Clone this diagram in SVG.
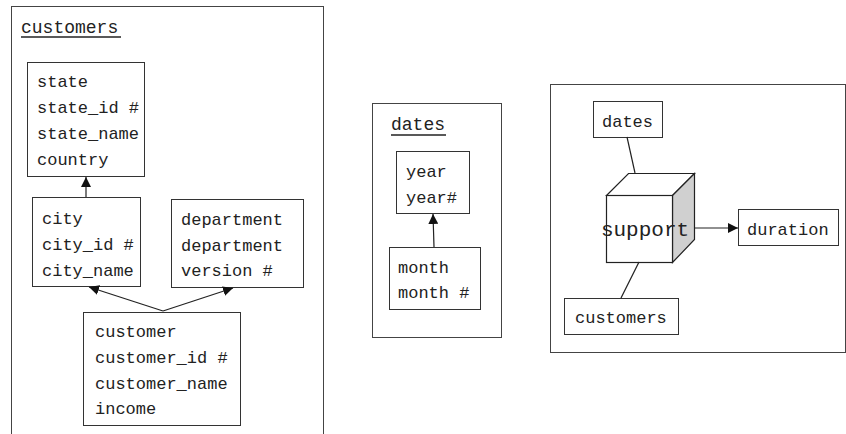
<svg xmlns="http://www.w3.org/2000/svg" width="846" height="434" viewBox="0 0 846 434">
<style>
.box{fill:#fff;stroke:#333;stroke-width:1}
.frame{fill:none;stroke:#444;stroke-width:1}
.t{font-family:"Liberation Mono","Courier New",monospace;font-size:17px;fill:#222}
.title{font-size:18px}
.big{font-size:21px}
.ul{stroke:#222;stroke-width:1.5}
.ln{stroke:#222;stroke-width:1.2;fill:none}
</style>
<defs>
<marker id="ah" viewBox="0 0 10 10" refX="10" refY="5" markerWidth="10" markerHeight="10" markerUnits="userSpaceOnUse" orient="auto">
<path d="M0,0 L10,5 L0,10 z" fill="#111"/>
</marker>
</defs>
<rect width="846" height="434" fill="#fff"/>

<g id="customers-package">
<rect class="frame" x="11.5" y="6.5" width="312" height="440"/>
<text class="t title" x="21" y="33">customers</text>
<line class="ul" x1="21" y1="37" x2="121" y2="37"/>
</g>
<g id="state">
<rect class="box" x="27.5" y="62.5" width="117" height="114"/>
<text class="t" x="37" y="87">state</text>
<text class="t" x="37" y="113">state_id #</text>
<text class="t" x="37" y="139">state_name</text>
<text class="t" x="37" y="165">country</text>
</g>
<g id="city">
<rect class="box" x="32.5" y="197.5" width="108" height="89"/>
<text class="t" x="42" y="224">city</text>
<text class="t" x="42" y="250">city_id #</text>
<text class="t" x="42" y="276">city_name</text>
</g>
<g id="department">
<rect class="box" x="171.5" y="199.5" width="132" height="88"/>
<text class="t" x="181" y="225">department</text>
<text class="t" x="181" y="251">department</text>
<text class="t" x="181" y="276">version #</text>
</g>
<g id="customer">
<rect class="box" x="83.5" y="312.5" width="157" height="113"/>
<text class="t" x="95" y="337">customer</text>
<text class="t" x="95" y="363">customer_id #</text>
<text class="t" x="95" y="389">customer_name</text>
<text class="t" x="95" y="414">income</text>
</g>

<g id="dates-package">
<rect class="frame" x="372.5" y="103.5" width="129" height="234"/>
<text class="t title" x="391" y="130">dates</text>
<line class="ul" x1="391" y1="135" x2="446" y2="135"/>
</g>
<g id="year">
<rect class="box" x="396.5" y="151.5" width="73" height="62"/>
<text class="t" x="406" y="177">year</text>
<text class="t" x="406" y="203">year#</text>
</g>
<g id="month">
<rect class="box" x="389.5" y="247.5" width="91" height="62"/>
<text class="t" x="398" y="273">month</text>
<text class="t" x="398" y="298">month #</text>
</g>

<g id="support-package">
<rect class="frame" x="550.5" y="84.5" width="295" height="268"/>
</g>
<g id="dates-ref">
<rect class="box" x="593.5" y="101.5" width="69" height="36"/>
<text class="t" x="602" y="127">dates</text>
</g>
<g id="customers-ref">
<rect class="box" x="564.5" y="298.5" width="114" height="36"/>
<text class="t" x="575" y="323">customers</text>
</g>
<g id="duration">
<rect class="box" x="738.5" y="209.5" width="100" height="36"/>
<text class="t" x="747" y="235">duration</text>
</g>
<g id="support">
<path d="M606.5,195.5 L628.5,173.5 L694.5,173.5 L672.5,195.5 Z" fill="#fff" stroke="#222" stroke-width="1.2"/>
<path d="M672.5,195.5 L694.5,173.5 L694.5,239.5 L672.5,262.5 Z" fill="#d0d0d0" stroke="#222" stroke-width="1.2"/>
<rect x="606.5" y="195.5" width="66" height="67" fill="#fff" stroke="#222" stroke-width="1.2"/>
<text class="t big" x="645" y="236" text-anchor="middle">support</text>
</g>

<g id="connectors">
<line class="ln" x1="86" y1="197" x2="86" y2="177" marker-end="url(#ah)"/>
<line class="ln" x1="163" y1="311" x2="89" y2="287" marker-end="url(#ah)"/>
<line class="ln" x1="163" y1="311" x2="233" y2="288" marker-end="url(#ah)"/>
<line class="ln" x1="434" y1="247" x2="433" y2="214" marker-end="url(#ah)"/>
<line class="ln" x1="627" y1="137" x2="635" y2="173"/>
<line class="ln" x1="639" y1="262" x2="621" y2="298"/>
<line class="ln" x1="694" y1="228" x2="738" y2="228" marker-end="url(#ah)"/>
</g>
</svg>
